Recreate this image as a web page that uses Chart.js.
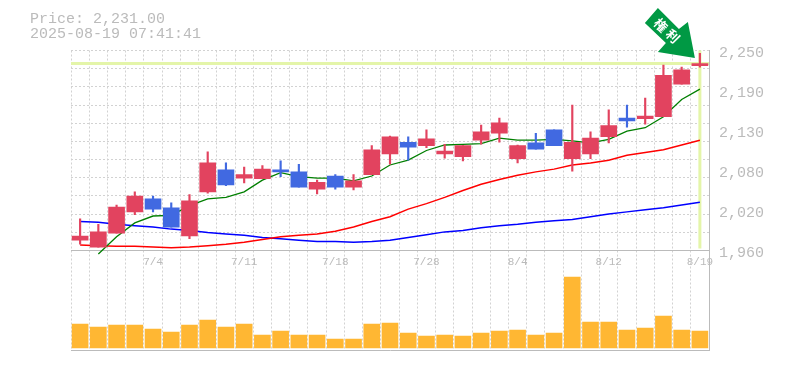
<!DOCTYPE html>
<html>
<head>
<meta charset="utf-8">
<script src="https://cdn.jsdelivr.net/npm/chart.js@4"></script>
<style>
html, body { margin: 0; padding: 0; background: #fff; }
canvas { display: block; }
</style>
</head>
<body>
<canvas id="stock-chart" width="785" height="370"></canvas>
<script>
const dates = ['6/30','7/1','7/2','7/3','7/4','7/7','7/8','7/9','7/10','7/11','7/14','7/15','7/16','7/17','7/18','7/22','7/23','7/24','7/25','7/28','7/29','7/30','7/31','8/1','8/4','8/5','8/6','8/7','8/8','8/12','8/13','8/14','8/15','8/18','8/19'];
const shownDates = ['7/4','7/11','7/18','7/28','8/4','8/12','8/19'];

const open = [1975,1965,1985,2016,2035,2022,1981,2045,2077,2065,2064,2077,2074,2049,2068,2052,2070,2100,2117,2112,2100,2096,2120,2130,2093,2116,2135,2093,2100,2125,2152,2151,2154,2201,2228];
const close = [1981,1987,2023,2039,2020,1994,2032,2087,2055,2070,2078,2074,2052,2059,2052,2061,2106,2125,2110,2122,2104,2112,2132,2145,2112,2107,2112,2117,2123,2141,2148,2155,2214,2222,2231];
const high = [2006,1998,2026,2045,2039,2029,2041,2103,2087,2081,2083,2090,2085,2062,2070,2070,2112,2126,2125,2135,2114,2112,2142,2152,2113,2130,2135,2171,2132,2164,2171,2181,2229,2226,2246];
const low = [1969,1965,1985,2012,2016,1994,1977,2043,2054,2058,2064,2067,2052,2042,2049,2048,2070,2085,2091,2109,2094,2090,2114,2117,2087,2107,2112,2075,2093,2116,2139,2143,2154,2201,2226];

const maShort = [null,1955,1980,2000,2010,2011,2025,2035,2037,2045,2062,2073,2067,2065,2065,2061,2068,2084,2091,2105,2113,2114,2115,2123,2120,2120,2121,2119,2116,2121,2133,2138,2154,2179,2194];
const maMid = [1968,1967,1966,1966,1965,1964,1965,1967,1969,1972,1976,1980,1982,1984,1988,1994,2002,2009,2020,2028,2037,2047,2056,2063,2069,2074,2078,2084,2087,2091,2098,2102,2106,2113,2120];
const maLong = [2002,2001,1998,1996,1994,1991,1989,1986,1984,1982,1979,1977,1975,1973,1973,1972,1973,1975,1979,1983,1987,1989,1993,1996,1998,2001,2003,2005,2009,2013,2016,2019,2022,2026,2030];

const volume = [24000,21000,23000,23000,19000,16000,23000,28000,21000,24000,13000,17000,13000,13000,9000,9000,24000,25000,15000,12000,13000,12000,15000,17000,18000,13000,15000,71000,26000,26000,18000,20000,32000,18000,17000];

const priceTicks = [1960,2018,2076,2134,2192,2250];
const priceTickLabels = ['1,960','2,020','2,080','2,130','2,190','2,250'];
const priceGridCount = 11;
const lastPrice = 2231;
const headerLines = ['Price: 2,231.00','2025-08-19 07:41:41'];
const arrowText = ['権','利'];

const UP = '#e2435f';
const DOWN = '#4169e1';
const TEXT = '#bbbbbb';
const GRID = '#d2d2d2';
const MONO = '"Liberation Mono", monospace';

const gridValues = [];
for (let i = 0; i <= priceGridCount; ++i) {
    gridValues.push(priceTicks[0] + (priceTicks[5] - priceTicks[0]) * i / priceGridCount);
}

const candleColors = close.map((c, i) => c >= open[i] ? UP : DOWN);
const bodies = open.map((o, i) => [Math.min(o, close[i]), Math.max(o, close[i])]);
const wicks = low.map((l, i) => [l, high[i]]);

// header text, last price cross hair, arrow marker
const extras = {
    id: 'extras',
    beforeDatasetsDraw(chart) {
        const { ctx, scales: { x, y } } = chart;
        const px = x.getPixelForValue(dates.length - 1);
        const py = y.getPixelForValue(lastPrice);
        ctx.save();
        ctx.strokeStyle = '#e4f5a9';
        ctx.lineWidth = 3;
        ctx.beginPath();
        ctx.moveTo(x.left, py);
        ctx.lineTo(x.right, py);
        ctx.moveTo(px, y.top);
        ctx.lineTo(px, y.bottom - 2);
        ctx.stroke();
        ctx.restore();
    },
    afterDraw(chart) {
        const { ctx, scales: { x, y } } = chart;
        ctx.save();
        ctx.fillStyle = TEXT;
        ctx.font = '15px ' + MONO;
        ctx.textBaseline = 'alphabetic';
        ctx.fillText(headerLines[0], 30, 23);
        ctx.fillText(headerLines[1], 30, 38);

        const tipX = x.getPixelForValue(dates.length - 1) - 5;
        const tipY = y.getPixelForValue(lastPrice) - 5.5;
        const shape = [[0,0],[-7,-36],[-16,-29],[-37,-50],[-50,-35],[-29,-15],[-37,-6]];
        ctx.fillStyle = '#009944';
        ctx.beginPath();
        shape.forEach((p, i) => {
            if (i == 0) ctx.moveTo(tipX + p[0], tipY + p[1]);
            else ctx.lineTo(tipX + p[0], tipY + p[1]);
        });
        ctx.closePath();
        ctx.fill();

        ctx.fillStyle = '#ffffff';
        ctx.font = 'bold 13px "Noto Sans CJK JP"';
        ctx.textAlign = 'center';
        ctx.textBaseline = 'middle';
        const spots = [[-34,-33],[-22,-22]];
        arrowText.forEach((ch, i) => {
            ctx.save();
            ctx.translate(tipX + spots[i][0], tipY + spots[i][1]);
            ctx.rotate(Math.PI / 4);
            ctx.fillText(ch, 0, 0);
            ctx.restore();
        });
        ctx.restore();
    }
};

const data = {
    labels: dates,
    datasets: [
        { type: 'bar', data: bodies, yAxisID: 'y', backgroundColor: candleColors, barThickness: 16, grouped: false, order: 1 },
        { type: 'bar', data: wicks, yAxisID: 'y', backgroundColor: candleColors, barThickness: 1.5, grouped: false, order: 2 },
        { type: 'line', data: maShort, yAxisID: 'y', borderColor: '#007f00', borderWidth: 1.3, pointRadius: 0, tension: 0, clip: false, order: 3 },
        { type: 'line', data: maMid, yAxisID: 'y', borderColor: '#ff0000', borderWidth: 1.5, pointRadius: 0, tension: 0, order: 3 },
        { type: 'line', data: maLong, yAxisID: 'y', borderColor: '#0000ff', borderWidth: 1.5, pointRadius: 0, tension: 0, order: 3 },
        { type: 'bar', data: volume, yAxisID: 'yVol', backgroundColor: '#ffb733', barThickness: 16, grouped: false, order: 4 }
    ]
};

const config = {
    type: 'bar',
    data: data,
    plugins: [extras],
    options: {
        responsive: false,
        animation: false,
        layout: { padding: { top: 50.5, left: 71, right: 0, bottom: 0 } },
        plugins: { legend: { display: false }, tooltip: { enabled: false }, title: { display: false } },
        scales: {
            x: {
                type: 'category',
                offset: true,
                afterFit(scale) {
                    scale.height = 20;
                    scale.paddingLeft = 0;
                    scale.paddingRight = 0;
                },
                grid: { offset: true, color: GRID, drawTicks: false },
                border: { display: true, color: '#bbbbbb', width: 1, dash: [2, 2] },
                ticks: {
                    autoSkip: false,
                    maxRotation: 0,
                    minRotation: 0,
                    mirror: true, // otherwise the labels get clipped to the axis box
                    padding: 81.5,
                    color: TEXT,
                    font: { family: MONO, size: 11 },
                    callback(value) {
                        const label = this.getLabelForValue(value);
                        return shownDates.includes(label) ? label : '';
                    }
                }
            },
            y: {
                type: 'linear',
                position: 'right',
                stack: 'panes',
                stackWeight: 200,
                min: priceTicks[0],
                max: priceTicks[5],
                afterFit(scale) { scale.width = 76; },
                afterBuildTicks(scale) {
                    const all = gridValues.concat(priceTicks.filter(v => !gridValues.includes(v)));
                    scale.ticks = all.sort((a, b) => a - b).map(v => ({ value: v }));
                },
                grid: {
                    drawTicks: false,
                    color(ctx) {
                        return gridValues.includes(ctx.tick.value) ? GRID : 'rgba(0,0,0,0)';
                    }
                },
                border: { display: true, color: '#bbbbbb', width: 1, dash: [2, 2] },
                ticks: {
                    autoSkip: false,
                    padding: 10,
                    labelOffset: 3,
                    color: TEXT,
                    font: { family: MONO, size: 15 },
                    callback(value) {
                        const at = priceTicks.indexOf(value);
                        return at >= 0 ? priceTickLabels[at] : '';
                    }
                }
            },
            yVol: {
                type: 'linear',
                position: 'right',
                stack: 'panes',
                stackWeight: 99.5,
                min: -2000,
                max: 97500,
                afterFit(scale) { scale.width = 76; },
                afterBuildTicks(scale) { scale.ticks = [{ value: 97500 }]; },
                grid: { drawTicks: false, color: '#bbbbbb', lineWidth: 1 },
                border: { display: true, color: '#bbbbbb', width: 1 },
                ticks: { display: false }
            }
        }
    }
};

let chart = new Chart('stock-chart', config);
</script>
</body>
</html>
